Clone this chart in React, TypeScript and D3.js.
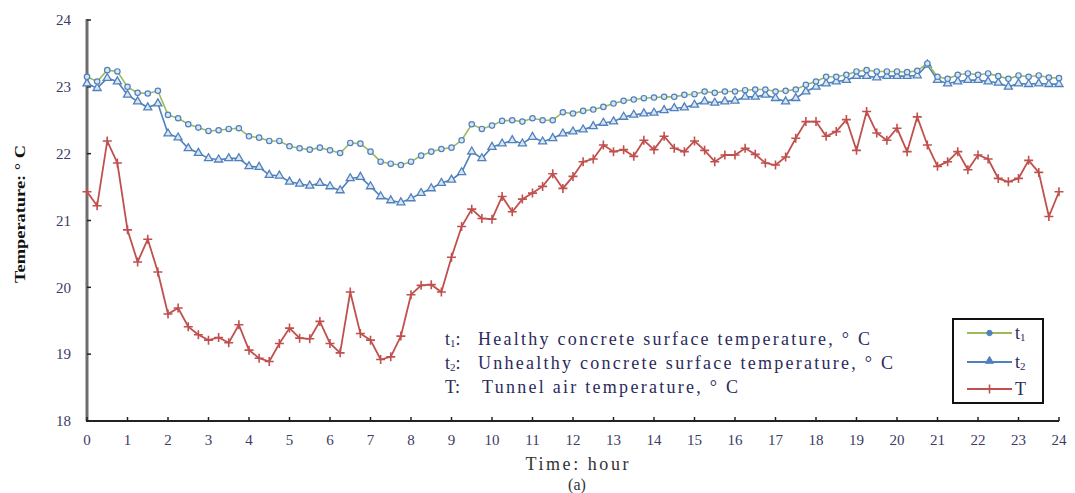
import React from "react";
import * as d3 from "d3";

// Sampling every 15 minutes over 24 hours
const hours: number[] = d3.range(97).map((i) => i * 0.25);

// t1: healthy concrete surface temperature (°C)
const t1: number[] = [
  23.15, 23.08, 23.25, 23.23, 23.0, 22.91, 22.9, 22.94, 22.58, 22.53, 22.44, 22.39, 22.34, 22.35, 22.37, 22.38, 22.26,
  22.24, 22.19, 22.19, 22.11, 22.08, 22.06, 22.09, 22.05, 22.01, 22.16, 22.15, 22.03, 21.88, 21.85, 21.83, 21.88,
  21.97, 22.03, 22.07, 22.09, 22.2, 22.44, 22.37, 22.42, 22.49, 22.5, 22.48, 22.53, 22.5, 22.5, 22.62, 22.6,
  22.64, 22.66, 22.7, 22.75, 22.79, 22.81, 22.83, 22.84, 22.85, 22.85, 22.88, 22.89, 22.93, 22.91, 22.93, 22.93,
  22.95, 22.96, 22.96, 22.93, 22.94, 22.96, 23.03, 23.08, 23.15, 23.15, 23.18, 23.23, 23.25, 23.23, 23.23, 23.23,
  23.22, 23.24, 23.35, 23.15, 23.12, 23.18, 23.2, 23.18, 23.2, 23.16, 23.12, 23.17, 23.15, 23.17, 23.14, 23.13,
];

// t2: unhealthy concrete surface temperature (°C)
const t2: number[] = [
  23.05, 22.98, 23.13, 23.08, 22.88, 22.78, 22.69, 22.75, 22.3, 22.24, 22.08, 22.01, 21.93, 21.91, 21.93, 21.93, 21.81,
  21.8, 21.68, 21.67, 21.58, 21.55, 21.52, 21.56, 21.51, 21.45, 21.63, 21.65, 21.51, 21.36, 21.3, 21.27, 21.33,
  21.41, 21.48, 21.56, 21.61, 21.72, 22.03, 21.93, 22.1, 22.15, 22.2, 22.15, 22.25, 22.18, 22.23, 22.3, 22.33,
  22.36, 22.41, 22.46, 22.48, 22.55, 22.58, 22.6, 22.61, 22.65, 22.68, 22.69, 22.73, 22.78, 22.76, 22.78, 22.79,
  22.85, 22.85, 22.88, 22.83, 22.78, 22.83, 22.93, 23.0, 23.05, 23.08, 23.1, 23.16, 23.16, 23.14, 23.16, 23.16,
  23.16, 23.17, 23.33, 23.1, 23.05, 23.08, 23.1, 23.1, 23.08, 23.06, 23.0, 23.05, 23.04, 23.05, 23.04, 23.04,
];

// T: tunnel air temperature (°C)
const airT: number[] = [
  21.43, 21.22, 22.19, 21.86, 20.86, 20.38, 20.72, 20.23, 19.6, 19.69, 19.41, 19.29, 19.21, 19.25, 19.17, 19.44, 19.06,
  18.94, 18.89, 19.16, 19.39, 19.24, 19.23, 19.49, 19.16, 19.02, 19.93, 19.31, 19.21, 18.92, 18.96, 19.27, 19.89,
  20.03, 20.04, 19.93, 20.45, 20.91, 21.17, 21.03, 21.02, 21.36, 21.13, 21.32, 21.41, 21.51, 21.7, 21.48, 21.66,
  21.88, 21.92, 22.13, 22.03, 22.06, 21.96, 22.2, 22.06, 22.26, 22.08, 22.03, 22.19, 22.05, 21.88, 21.98, 21.98,
  22.08, 21.99, 21.86, 21.83, 21.95, 22.23, 22.48, 22.48, 22.26, 22.33, 22.51, 22.05, 22.63, 22.31, 22.2, 22.38,
  22.03, 22.55, 22.13, 21.81, 21.88, 22.03, 21.76, 21.98, 21.92, 21.63, 21.58, 21.63, 21.9, 21.72, 21.06, 21.43,
];

const xTicks: number[] = d3.range(0, 25);
const yTicks: number[] = [18, 19, 20, 21, 22, 23, 24];

const GREEN = "#9bbb59";
const BLUE = "#4f81bd";
const RED = "#c0504d";
const TICK_TEXT = "#3b3b66";

export default function App() {
  const x = d3.scaleLinear().domain([0, 24]).range([87, 1059]);
  const y = d3.scaleLinear().domain([18, 24]).range([421, 20]);

  const line = (vals: number[]) =>
    d3
      .line<number>()
      .x((_, i) => x(hours[i]))
      .y((v) => y(v))(vals) as string;

  const tri = d3.symbol(d3.symbolTriangle, 28)() as string;
  const plus = "M-4.5,0H4.5M0,-4.5V4.5";

  const font = "'Liberation Serif', 'DejaVu Serif', serif";

  return (
    <svg
      width={1075}
      height={493}
      style={{ position: "absolute", left: 0, top: 0, background: "#fff" }}
      fontFamily={font}
    >
      {/* axes */}
      <line x1={x(0)} x2={x(0)} y1={y(24) - 1} y2={y(18)} stroke="#6e6e6e" strokeWidth={3} />
      <line x1={x(0) - 1} x2={x(24)} y1={y(18)} y2={y(18)} stroke="#222" strokeWidth={2} />
      {yTicks.map((t) => (
        <g key={"y" + t}>
          <line x1={x(0)} x2={x(0) + 4} y1={y(t)} y2={y(t)} stroke="#222" strokeWidth={1.5} />
          <text x={71} y={y(t)} dy="0.35em" textAnchor="end" fontSize={15} fill={TICK_TEXT}>
            {t}
          </text>
        </g>
      ))}
      {xTicks.map((t) => (
        <g key={"x" + t}>
          <line x1={x(t)} x2={x(t)} y1={y(18)} y2={y(18) - 4} stroke="#222" strokeWidth={1.5} />
          <text x={x(t)} y={445} textAnchor="middle" fontSize={15} fill={TICK_TEXT}>
            {t}
          </text>
        </g>
      ))}

      {/* axis titles */}
      <text
        transform="translate(25,214) rotate(-90)"
        textAnchor="middle"
        fontSize={15}
        fontWeight="bold"
        fill="#111"
        textLength={138}
        lengthAdjust="spacingAndGlyphs"
      >
        Temperature: ° C
      </text>
      <text x={577} y={470} textAnchor="middle" fontSize={18} fill="#333" textLength={103} lengthAdjust="spacing">
        Time: hour
      </text>
      <text x={577} y={490} textAnchor="middle" fontSize={16} fill="#333">
        (a)
      </text>

      {/* series: T */}
      <path d={line(airT)} fill="none" stroke={RED} strokeWidth={1.8} />
      {airT.map((v, i) => (
        <path key={"T" + i} d={plus} transform={`translate(${x(hours[i])},${y(v)})`} stroke={RED} strokeWidth={1.6} fill="none" />
      ))}

      {/* series: t2 */}
      <path d={line(t2)} fill="none" stroke={BLUE} strokeWidth={1.6} />
      {t2.map((v, i) => (
        <path key={"b" + i} d={tri} transform={`translate(${x(hours[i])},${y(v)})`} stroke={BLUE} strokeWidth={1.3} fill="#dce6f2" />
      ))}

      {/* series: t1 */}
      <path d={line(t1)} fill="none" stroke={GREEN} strokeWidth={1.6} />
      {t1.map((v, i) => (
        <circle key={"g" + i} cx={x(hours[i])} cy={y(v)} r={2.7} stroke={BLUE} strokeWidth={1.2} fill="#dce6f2" />
      ))}

      {/* description of the series */}
      <g fontSize={18} fill="#2b2b5a">
        <text x={445} y={345}>
          t<tspan fontSize={11} dy={2}>1</tspan>
          <tspan dy={-2}>:</tspan>
        </text>
        <text x={478} y={345} textLength={392} lengthAdjust="spacing">
          Healthy concrete surface temperature, ° C
        </text>
        <text x={445} y={369}>
          t<tspan fontSize={11} dy={2}>2</tspan>
          <tspan dy={-2}>:</tspan>
        </text>
        <text x={478} y={369} textLength={415} lengthAdjust="spacing">
          Unhealthy concrete surface temperature, ° C
        </text>
        <text x={445} y={393}>
          T:
        </text>
        <text x={482} y={393} textLength={256} lengthAdjust="spacing">
          Tunnel air temperature, ° C
        </text>
      </g>

      {/* legend */}
      <rect x={953} y={319} width={90} height={84} fill="#fff" stroke="#111" strokeWidth={2} />
      <g>
        <line x1={967} x2={1012} y1={333} y2={333} stroke={GREEN} strokeWidth={1.8} />
        <circle cx={989.5} cy={333} r={2.7} fill={BLUE} stroke={BLUE} />
        <text x={1015} y={339} fontSize={18} fill="#2b2b5a">
          t<tspan fontSize={11} dy={2}>1</tspan>
        </text>
        <line x1={967} x2={1012} y1={362} y2={362} stroke={BLUE} strokeWidth={1.8} />
        <path d={tri} transform="translate(989.5,361)" fill={BLUE} stroke={BLUE} />
        <text x={1015} y={368} fontSize={18} fill="#2b2b5a">
          t<tspan fontSize={11} dy={2}>2</tspan>
        </text>
        <line x1={967} x2={1012} y1={389} y2={389} stroke={RED} strokeWidth={1.8} />
        <path d={plus} transform="translate(989.5,389)" stroke={RED} strokeWidth={1.6} fill="none" />
        <text x={1015} y={395} fontSize={18} fill="#2b2b5a">
          T
        </text>
      </g>
    </svg>
  );
}
